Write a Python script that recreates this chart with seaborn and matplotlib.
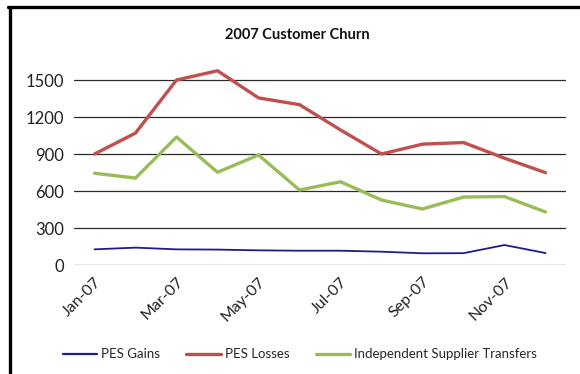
import matplotlib
matplotlib.use("Agg")
import matplotlib.pyplot as plt
from matplotlib.lines import Line2D
import pandas as pd
import seaborn as sns

months = ["Jan-07", "Feb-07", "Mar-07", "Apr-07", "May-07", "Jun-07",
          "Jul-07", "Aug-07", "Sep-07", "Oct-07", "Nov-07", "Dec-07"]
pes_gains = [127, 141, 127, 125, 119, 116, 116, 108, 95, 96, 162, 97]
pes_losses = [900, 1070, 1500, 1575, 1355, 1300, 1095, 900, 980, 993, 866, 749]
ist_transfers = [744, 705, 1038, 752, 892, 608, 675, 527, 454, 551, 555, 430]
series_names = ["PES Gains", "PES Losses", "Independent Supplier Transfers"]
y_ticks = [0, 300, 600, 900, 1200, 1500]

sns.set_theme(style="white")
plt.rcParams["font.family"] = ["Lato", "DejaVu Sans"]

rows = []
for name, vals in zip(series_names, [pes_gains, pes_losses, ist_transfers]):
    for i, v in enumerate(vals):
        rows.append({"idx": i, "value": v, "series": name})
df = pd.DataFrame(rows)

palette = {"PES Gains": "#1c1c8a",
           "PES Losses": "#c0504d",
           "Independent Supplier Transfers": "#9bbb59"}
widths = {"PES Gains": 1.3, "PES Losses": 2.4,
          "Independent Supplier Transfers": 2.4}

fig = plt.figure(figsize=(5.8, 3.74), dpi=100)
ax = fig.add_axes([0.1276, 0.2914, 0.8483, 0.5936])

# gridlines first so the series sit on top
for t in y_ticks:
    ax.axhline(t, color="#2a2a2a", lw=0.9, zorder=1)

for name in series_names:
    sub = df[df["series"] == name]
    sns.lineplot(data=sub, x="idx", y="value", ax=ax, color=palette[name],
                 lw=widths[name], label=name, zorder=3, legend=False)

ax.set_xlim(-0.5, 11.5)
ax.set_ylim(0, 1800)
ax.set_yticks(y_ticks)
ax.set_yticklabels([str(t) for t in y_ticks], fontsize=12, color="#222222")
ax.set_xticks(range(0, 12, 2))
ax.set_xticklabels(months[::2], rotation=45, ha="right",
                   rotation_mode="anchor", fontsize=11.5, color="#222222")
ax.tick_params(axis="both", length=0, pad=7)
ax.set_xlabel("")
ax.set_ylabel("")
for s in ax.spines.values():
    s.set_visible(False)

fig.text(0.512, 0.906, "2007 Customer Churn", ha="center", va="center",
         fontsize=10.5, fontweight="bold", color="#111111")

handles = [Line2D([0], [0], color=palette[n], lw=widths[n] if n != "PES Gains" else 1.6)
           for n in series_names]
fig.legend(handles, series_names, loc="center", bbox_to_anchor=(0.517, 0.053),
           ncol=3, frameon=False, fontsize=9.5, handlelength=2.6,
           handletextpad=0.3, columnspacing=2.0)

# outer frame
fig.add_artist(Line2D([9.5 / 580, 9.5 / 580], [0, 1 - 7 / 374], color="black",
                      lw=2.4, transform=fig.transFigure))
fig.add_artist(Line2D([8 / 580, 1], [1 - 7 / 374, 1 - 7 / 374], color="black",
                      lw=2.4, transform=fig.transFigure))

fig.savefig("out.png", dpi=100)
